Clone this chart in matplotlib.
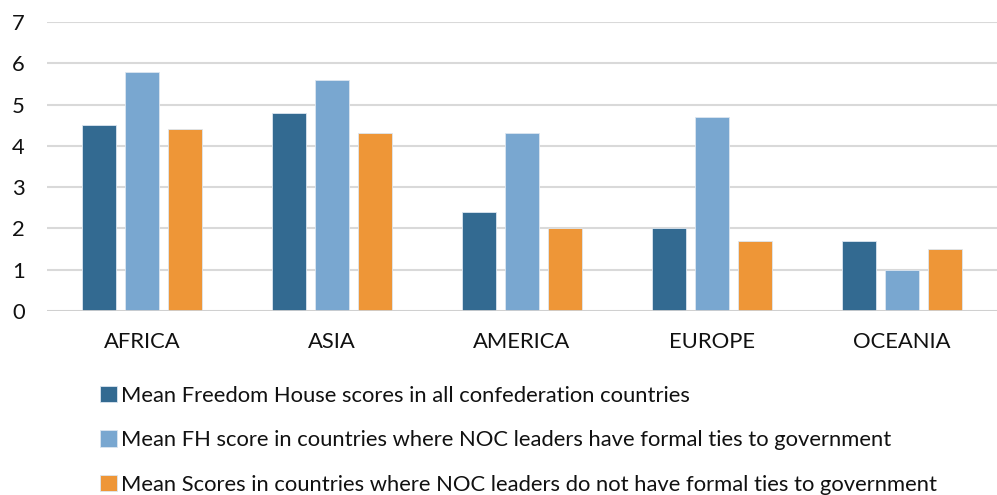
import matplotlib
matplotlib.use("Agg")
import matplotlib.pyplot as plt
import numpy as np

# data
regions = ["AFRICA", "ASIA", "AMERICA", "EUROPE", "OCEANIA"]
fh_all = [4.5, 4.8, 2.4, 2.0, 1.7]
fh_ties = [5.8, 5.6, 4.3, 4.7, 1.0]
fh_no_ties = [4.4, 4.3, 2.0, 1.7, 1.5]
series_labels = [
    "Mean Freedom House scores in all confederation countries",
    "Mean FH score in countries where NOC leaders have formal ties to government",
    "Mean Scores in countries where NOC leaders do not have formal ties to government",
]
colors = ["#336A91", "#79A7D0", "#EE9637"]

plt.rcParams["font.family"] = ["Lato", "DejaVu Sans"]
fs = 15.8

fig = plt.figure(figsize=(9.97, 4.95), dpi=100)
ax = fig.add_axes([0.0471, 0.3717, 0.9529, 0.5838])

x = np.arange(len(regions))
width = 0.179
step = 0.227
bars = []
for i, (vals, col, lab) in enumerate(zip([fh_all, fh_ties, fh_no_ties], colors, series_labels)):
    b = ax.bar(x + (i - 1) * step, vals, width, color=col, label=lab,
               edgecolor="#DCE6F0", linewidth=0.6, zorder=3)
    bars.append(b)

ax.set_xlim(-0.5, len(regions) - 0.5)
ax.set_ylim(0, 7)
ax.set_yticks(range(8))
ax.set_xticks(x)
ax.set_xticklabels(regions)
ax.yaxis.grid(True, color="#D9D9D9", linewidth=1.5, zorder=0)
ax.axhline(0, color="#D0D0D0", linewidth=2, zorder=4)
for s in ax.spines.values():
    s.set_visible(False)
ax.tick_params(axis="both", length=0, labelsize=fs, colors="#111111")
ax.tick_params(axis="x", pad=15)
ax.tick_params(axis="y", pad=16)

fig.legend(handles=bars, labels=series_labels, loc="upper left",
           bbox_to_anchor=(0.100, 0.221), frameon=False, fontsize=fs,
           handlelength=0.78, handleheight=0.78, handletextpad=0.18,
           labelspacing=1.12, borderaxespad=0, borderpad=0, labelcolor="#111111")

fig.savefig("out.png", dpi=100)
